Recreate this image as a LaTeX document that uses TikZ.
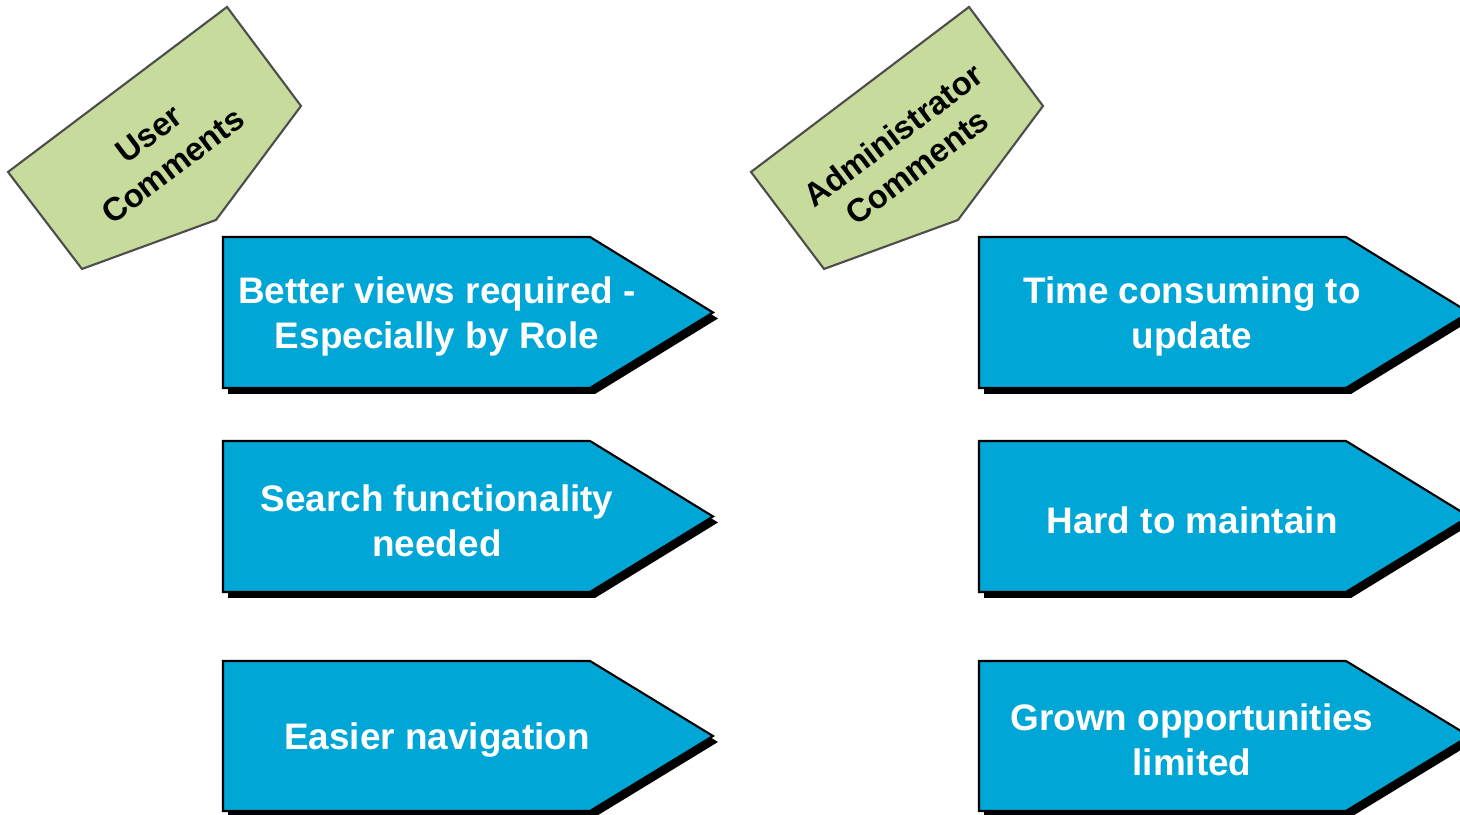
\documentclass[tikz,border=0pt]{standalone}
\usepackage{fontspec}
\setmainfont{Liberation Sans}
\usetikzlibrary{calc, shadows, positioning}
\definecolor{arrowblue}{RGB}{0,166,214}
\definecolor{taggreen}{RGB}{198,219,156}
\definecolor{tagline}{RGB}{77,77,77}

\begin{document}
\begin{tikzpicture}[
    comment/.style={fill=arrowblue, draw=black, line width=0.6pt,
      drop shadow={shadow xshift=0.05cm, shadow yshift=-0.06cm, fill=black, opacity=1}},
    tag/.style={fill=taggreen, draw=tagline, line width=0.6pt},
    commenttext/.style={align=center, text=white, yshift=-0.04cm, font=\fontsize{10.5}{12.8}\selectfont\bfseries},
    tagtext/.style={align=center, font=\fontsize{9.3}{11.3}\selectfont\bfseries, rotate=37}
  ]
  \useasboundingbox (0,0) rectangle (14.6,8.15);
  % tags
  \draw[tag] (0.08,6.43) -- (2.27,8.08) -- (3.01,7.09) -- (2.16,5.95) -- (0.82,5.46) -- cycle;
  \draw[tag] (7.51,6.43) -- (9.69,8.08) -- (10.43,7.09) -- (9.58,5.95) -- (8.24,5.46) -- cycle;
  \node[tagtext] (user) at (1.61,6.65) {User\\Comments};
  \node[tagtext] (admin) at (9.05,6.64) {Administrator\\Comments};
  % user comments
  \draw[comment] (2.23,5.78) -- (5.90,5.78) -- (7.13,5.025) -- (5.90,4.27) -- (2.23,4.27) -- cycle;
  \draw[comment] (2.23,3.74) -- (5.90,3.74) -- (7.13,2.985) -- (5.90,2.23) -- (2.23,2.23) -- cycle;
  \draw[comment] (2.23,1.54) -- (5.90,1.54) -- (7.13,0.79) -- (5.90,0.04) -- (2.23,0.04) -- cycle;
  \node[commenttext] (better) at (4.37,5.025) {Better views required -\\Especially by Role};
  \node[commenttext] (search) at (4.37,2.985) {Search functionality\\needed};
  \node[commenttext] (easier) at (4.37,0.79) {Easier navigation};
  % administrator comments
  \draw[comment] (9.79,5.78) -- (13.46,5.78) -- (14.69,5.025) -- (13.46,4.27) -- (9.79,4.27) -- cycle;
  \draw[comment] (9.79,3.74) -- (13.46,3.74) -- (14.69,2.985) -- (13.46,2.23) -- (9.79,2.23) -- cycle;
  \draw[comment] (9.79,1.54) -- (13.46,1.54) -- (14.69,0.79) -- (13.46,0.04) -- (9.79,0.04) -- cycle;
  \node[commenttext] (timecons) at (11.92,5.025) {Time consuming to\\update};
  \node[commenttext] (hard) at (11.92,2.985) {Hard to maintain};
  \node[commenttext] (grown) at (11.92,0.79) {Grown opportunities\\limited};
\end{tikzpicture}
\end{document}
